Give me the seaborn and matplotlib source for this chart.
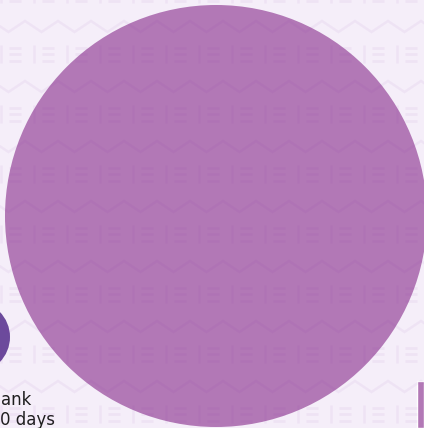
import numpy as np
import pandas as pd
import matplotlib
matplotlib.use("Agg")
import matplotlib.pyplot as plt
import seaborn as sns

# ---- data (bubble layout in pixel space of the visible crop) ----
names = ["Large group", "Small group"]
bubble_x = [216.0, -26.0]
bubble_y = [216.0, 337.0]
bubble_r = [211.0, 36.0]
bubble_colors = ["#b278b6", "#6c4a9c"]

label_lines = ["ank", "0 days"]

bar_x = [420.5]
bar_h = [47.0]
bar_color = "#b278b6"

W, H, DPI = 424, 428, 100
BG = "#f5eef9"

sns.set_theme(style="white")
plt.rcParams["font.family"] = ["DejaVu Sans"]

fig = plt.figure(figsize=(W / DPI, H / DPI), dpi=DPI, facecolor=BG)
ax = fig.add_axes([0, 0, 1, 1])
ax.set_facecolor(BG)

# marker area in points^2 so radius matches data (pixel) units
px_per_pt = DPI / 72.0
df = pd.DataFrame({"name": names, "x": bubble_x, "y": bubble_y, "r": bubble_r})
df["s"] = (2 * df["r"] / px_per_pt) ** 2
sns.scatterplot(data=df, x="x", y="y", hue="name",
                palette=dict(zip(names, bubble_colors)),
                size="s", sizes=(df["s"].min(), df["s"].max()),
                linewidth=0, legend=False, ax=ax, zorder=2, clip_on=False)
ax.set_xlim(0, W)
ax.set_ylim(H, 0)
ax.axis("off")

# partially visible bar at the bottom right
ax.bar(bar_x, bar_h, bottom=H - bar_h[0], width=7.5, color=bar_color, zorder=2,
       align="center")

# labels
ax.text(0.5, 405, label_lines[0], ha="left", va="baseline", fontsize=12,
        color="#1e1e1e", zorder=3)
ax.text(0.5, 425, label_lines[1], ha="left", va="baseline", fontsize=12,
        color="#1e1e1e", zorder=3)

# ---- decorative watermark pattern overlay ----
pc = (0.55, 0.2, 0.65)
pa = 0.06
period_x = 33.0
period_y = 60.0
for row in range(-1, 9):
    y0 = row * period_y
    # zigzag
    xs = np.arange(-period_x, W + period_x, period_x / 2.0) + 8.5
    ys = np.where(((xs - 8.5) / (period_x / 2.0)).round().astype(int) % 2 == 0,
                  y0 + 32, y0 + 21)
    ax.plot(xs, ys, color=pc, alpha=pa, lw=1.8, zorder=4,
            solid_joinstyle="miter")
    # E-like glyph row
    ye = y0 + 45
    for k in range(-1, 15):
        xv = 0.5 + k * period_x
        ax.plot([xv, xv], [ye, ye + 18], color=pc, alpha=pa, lw=1.8, zorder=4,
                solid_capstyle="butt")
        for dy in (2.5, 9.0, 15.5):
            ax.plot([xv + 8, xv + 20], [ye + dy, ye + dy], color=pc, alpha=pa,
                    lw=2.0, zorder=4, solid_capstyle="butt")

fig.savefig("out.png", dpi=DPI, facecolor=BG)
